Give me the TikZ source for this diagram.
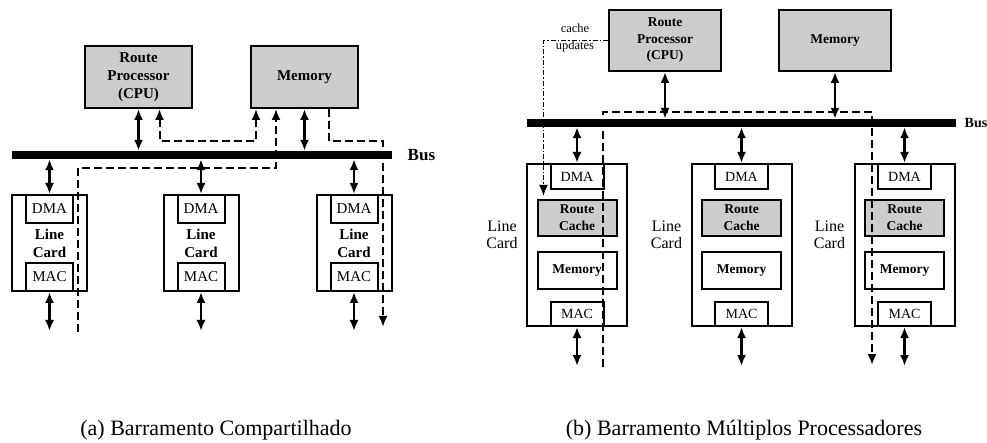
\documentclass[tikz,border=0pt]{standalone}
\usepackage{fontspec}
\setmainfont{Liberation Serif}
\usetikzlibrary{arrows.meta,calc}
\newcommand{\busw}{8pt}

\begin{document}
\begin{tikzpicture}[x=1pt,y=-1pt,>={Latex[length=11pt,width=9pt]},
  box/.style={draw,line width=2pt,inner sep=0pt,align=center},
  cpua/.style={box,fill=black!20,font=\bfseries\fontsize{15}{18}\selectfont,minimum width=107pt,minimum height=62pt},
  carda/.style={box,minimum width=75pt,minimum height=96pt},
  porta/.style={box,minimum width=47pt,minimum height=28pt,font=\fontsize{15}{18}\selectfont},
  cpub/.style={box,fill=black!20,font=\bfseries\fontsize{13.5}{16.5}\selectfont,minimum width=112pt,minimum height=61pt},
  cardb/.style={box,minimum width=100pt,minimum height=162pt},
  portb/.style={box,minimum width=53pt,minimum height=25pt,font=\fontsize{14}{17}\selectfont},
  cacheb/.style={box,minimum width=79pt,minimum height=36pt,font=\bfseries\fontsize{13.5}{17}\selectfont},
  bus/.style={fill=black,inner sep=0pt,minimum height=\busw},
  link/.style={line width=2.2pt,<->},
  dpath/.style={line width=2pt,dash pattern=on 8pt off 4pt},
  ddot/.style={line width=1.8pt,dash pattern=on 5pt off 2pt on 1.5pt off 2pt}]
\useasboundingbox (0,0) rectangle (987,443);

% (a) shared bus
\node[cpua] (rpa) at (138.5,77) {Route\\Processor\\(CPU)};
\node[cpua] (mema) at (304.5,77) {Memory};
\node[bus,minimum width=380pt] (busa) at (202,155) {};
\node[anchor=west,font=\bfseries\fontsize{17}{20}\selectfont] (busla) at ($(busa.east)+(12,0)$) {Bus};
\node[carda] (ca1) at (49.5,243) {};
\node[carda] (ca2) at (201,243) {};
\node[carda] (ca3) at (354,243) {};
\node[porta,anchor=north] (da1) at (ca1.north) {DMA};
\node[porta,anchor=north] (da2) at (ca2.north) {DMA};
\node[porta,anchor=north] (da3) at (ca3.north) {DMA};
\node[porta,anchor=south] (ma1) at (ca1.south) {MAC};
\node[porta,anchor=south] (ma2) at (ca2.south) {MAC};
\node[porta,anchor=south] (ma3) at (ca3.south) {MAC};
\node[align=center,font=\bfseries\fontsize{15}{18}\selectfont] (la1) at (ca1.center) {Line\\Card};
\node[align=center,font=\bfseries\fontsize{15}{18}\selectfont] (la2) at (ca2.center) {Line\\Card};
\node[align=center,font=\bfseries\fontsize{15}{18}\selectfont] (la3) at (ca3.center) {Line\\Card};
\path (ca1.south) ++(0,39) coordinate (oa1);
\path (ca2.south) ++(0,39) coordinate (oa2);
\path (ca3.south) ++(0,39) coordinate (oa3);
\draw[link] (rpa.south) -- (rpa.south |- busa.north);
\draw[link] (mema.south) -- (mema.south |- busa.north);
\draw[link] (busa.south -| ca1.north) -- (ca1.north);
\draw[link] (busa.south -| ca2.north) -- (ca2.north);
\draw[link] (busa.south -| ca3.north) -- (ca3.north);
\draw[link] (ca1.south) -- (oa1);
\draw[link] (ca2.south) -- (oa2);
\draw[link] (ca3.south) -- (oa3);
\path (rpa.south) ++(21,0) coordinate (d1a);
\path (mema.south west) ++(6,0) coordinate (d1b);
\path (mema.south west) ++(26,0) coordinate (d2a);
\path (mema.south west) ++(79,0) coordinate (d3a);
\coordinate (d2c) at (78,332);
\coordinate (d3c) at (383,327);
\draw[dpath,<->] (d1a) -- ++(0,32) -| (d1b);
\draw[dpath,->] (d2c) |- ($(d2a)+(0,59)$) -- (d2a);
\draw[dpath,->] (d3a) -- ++(0,32) -| (d3c);

% (b) multiple processors
\node[cpub] (rpb) at (665,40.5) {Route\\Processor\\(CPU)};
\node[cpub] (memb) at (835,40.5) {Memory};
\node[bus,minimum width=429pt] (busb) at (741.5,123) {};
\node[anchor=west,font=\bfseries\fontsize{14}{17}\selectfont] (buslb) at ($(busb.east)+(5,0)$) {Bus};
\node[cardb] (cb1) at (577,245) {};
\node[cardb] (cb2) at (741.5,245) {};
\node[cardb] (cb3) at (904.5,245) {};
\node[portb,anchor=north] (db1) at (cb1.north) {DMA};
\node[portb,anchor=north] (db2) at (cb2.north) {DMA};
\node[portb,anchor=north] (db3) at (cb3.north) {DMA};
\node[cacheb,fill=black!20] (rb1) at ($(cb1.north)+(0,55)$) {Route\\Cache};
\node[cacheb,fill=black!20] (rb2) at ($(cb2.north)+(0,55)$) {Route\\Cache};
\node[cacheb,fill=black!20] (rb3) at ($(cb3.north)+(0,55)$) {Route\\Cache};
\node[cacheb,minimum height=37pt] (mb1) at ($(cb1.north)+(0,107.5)$) {Memory};
\node[cacheb,minimum height=37pt] (mb2) at ($(cb2.north)+(0,107.5)$) {Memory};
\node[cacheb,minimum height=37pt] (mb3) at ($(cb3.north)+(0,107.5)$) {Memory};
\node[portb,minimum height=24pt,anchor=south] (mc1) at (cb1.south) {MAC};
\node[portb,minimum height=24pt,anchor=south] (mc2) at (cb2.south) {MAC};
\node[portb,minimum height=24pt,anchor=south] (mc3) at (cb3.south) {MAC};
\node[align=center,font=\fontsize{16}{17}\selectfont] (lb1) at ($(cb1.west)+(-24,-10)$) {Line\\Card};
\node[align=center,font=\fontsize{16}{17}\selectfont] (lb2) at ($(cb2.west)+(-24,-10)$) {Line\\Card};
\node[align=center,font=\fontsize{16}{17}\selectfont] (lb3) at ($(cb3.west)+(-24,-10)$) {Line\\Card};
\path (cb1.south) ++(0,39) coordinate (ob1);
\path (cb2.south) ++(0,39) coordinate (ob2);
\path (cb3.south) ++(0,39) coordinate (ob3);
\draw[link] (rpb.south) -- (rpb.south |- busb.north);
\draw[link] (memb.south) -- (memb.south |- busb.north);
\draw[link] (busb.south -| cb1.north) -- (cb1.north);
\draw[link] (busb.south -| cb2.north) -- (cb2.north);
\draw[link] (busb.south -| cb3.north) -- (cb3.north);
\draw[link] (cb1.south) -- (ob1);
\draw[link] (cb2.south) -- (ob2);
\draw[link] (cb3.south) -- (ob3);
\coordinate (e0) at (603,112);
\coordinate (e1) at (603,367);
\coordinate (e2) at (872,365);
\draw[dpath,->] (e1) -- (e0) -| (e2);
\node[align=center,font=\fontsize{12.5}{17}\selectfont] (cul) at (575,37.5) {cache\\updates};
\draw[ddot,->] (rpb.west) -| ($(rb1.north west)+(7,-3)$);

% captions
\node[font=\fontsize{22}{26}\selectfont] (capa) at (216,430) {(a) Barramento Compartilhado};
\node[font=\fontsize{22}{26}\selectfont] (capb) at (744,430) {(b) Barramento Múltiplos Processadores};
\end{tikzpicture}
\end{document}
